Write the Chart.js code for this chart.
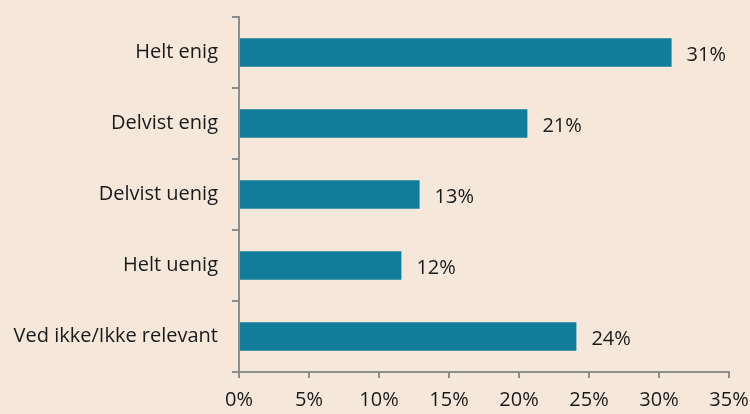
<!DOCTYPE html>
<html>
<head>
<meta charset="utf-8">
<script src="https://cdn.jsdelivr.net/npm/chart.js@4"></script>
<style>
  html, body { margin: 0; padding: 0; background: #f5e8da; }
  #wrap { width: 750px; height: 414px; }
</style>
</head>
<body>
<div id="wrap"><canvas id="c"></canvas></div>
<script>
const categories = ["Helt enig", "Delvist enig", "Delvist uenig", "Helt uenig", "Ved ikke/Ikke relevant"];
const values = [30.9, 20.6, 12.9, 11.6, 24.1];
const valueLabels = ["31%", "21%", "13%", "12%", "24%"];

const axisColor = "#8e8e8e";
const font = { family: "'Open Sans', 'Noto Sans', sans-serif", size: 20 };

// draw the percent labels right of each bar
const barLabels = {
  id: 'barLabels',
  afterDatasetsDraw(chart) {
    const ctx = chart.ctx;
    const meta = chart.getDatasetMeta(0);
    ctx.save();
    ctx.font = font.size + "px " + font.family;
    ctx.fillStyle = "#1a1a1a";
    ctx.textBaseline = "middle";
    meta.data.forEach((bar, i) => {
      ctx.fillText(valueLabels[i], bar.x + 15, bar.y + 3);
    });
    ctx.restore();
  }
};

new Chart(document.getElementById('c'), {
  type: 'bar',
  data: {
    labels: categories,
    datasets: [{
      data: values,
      backgroundColor: "#117d9b",
      barPercentage: 0.4,
      categoryPercentage: 1.0
    }]
  },
  options: {
    indexAxis: 'y',
    responsive: true,
    maintainAspectRatio: false,
    animation: false,
    layout: { padding: { top: 17, right: 21, left: 0, bottom: 0 } },
    plugins: { legend: { display: false }, tooltip: { enabled: false } },
    scales: {
      x: {
        min: 0, max: 35,
        ticks: {
          stepSize: 5,
          color: "#1a1a1a",
          font: font,
          padding: 10,
          maxRotation: 0,
          callback: v => v + "%"
        },
        grid: { drawOnChartArea: false, color: axisColor, lineWidth: 2, tickLength: 6 },
        border: { color: axisColor, width: 2 },
        afterFit(scale) {
          scale.height = 42;
          scale.paddingLeft = 0;
          scale.paddingRight = 0;
        }
      },
      y: {
        ticks: { color: "#1a1a1a", font: font, padding: 14 },
        grid: { drawOnChartArea: false, offset: true, color: axisColor, lineWidth: 2, tickLength: 7 },
        border: { color: axisColor, width: 2 },
        afterFit(scale) {
          scale.width = 239;
          scale.paddingTop = 0;
          scale.paddingBottom = 0;
        }
      }
    }
  },
  plugins: [barLabels]
});
</script>
</body>
</html>
